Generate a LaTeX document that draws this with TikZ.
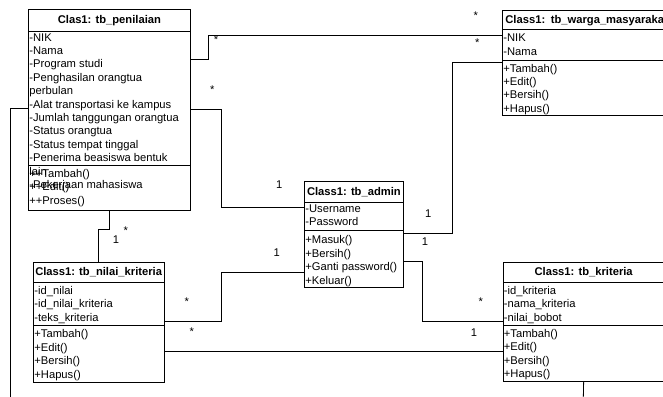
\documentclass[tikz,border=0pt]{standalone}
\usepackage{fontspec}
\setmainfont{Liberation Sans}

\begin{document}
\begin{tikzpicture}[x = 1pt, y = -1pt, line width = 0.8pt,
		font = \fontsize{11.2}{13.4}\selectfont,
		kelas/.style = {draw, rectangle, inner sep = 0pt, anchor = north west},
		judul/.style = {kelas, font = \fontsize{11.2}{13.4}\selectfont\bfseries},
		isi/.style = {anchor = north west, align = left, inner sep = 0pt},
		mult/.style = {inner sep = 0pt}]
		\useasboundingbox (0,0) rectangle (663,396);
		% tb_penilaian
		\node (penT) at (28,9) [judul, minimum width = 162, minimum height = 22] {Clas1: tb\_penilaian};
		\node (penA) at (28,31) [kelas, minimum width = 162, minimum height = 134] {};
		\node (penM) at (28,165) [kelas, minimum width = 162, minimum height = 45] {};
		\node (penAisi) at (29,33) [isi] {-NIK\\-Nama\\-Program studi\\-Penghasilan orangtua\\perbulan\\-Alat transportasi ke kampus\\-Jumlah tanggungan orangtua\\-Status orangtua\\-Status tempat tinggal\\-Penerima beasiswa bentuk\\lain\\-Pekerjaan mahasiswa};
		\node (penMisi) at (29,169) [isi] {++Tambah()\\++Edit()\\++Proses()};
		% tb_warga_masyarakat
		\node (wargaT) at (502,10) [judul, text width = 190, align = left, inner xsep = 3, minimum height = 19.5] {Class1: tb\_warga\_masyarakat};
		\node (wargaA) at (502,29.5) [kelas, minimum width = 196, minimum height = 30] {};
		\node (wargaM) at (502,59.5) [kelas, minimum width = 196, minimum height = 55.5] {};
		\node (wargaAisi) at (503,33.5) [isi] {-NIK\\-Nama};
		\node (wargaMisi) at (503,63.5) [isi] {+Tambah()\\+Edit()\\+Bersih()\\+Hapus()};
		% tb_admin
		\node (adminT) at (304,181) [judul, minimum width = 99, minimum height = 21] {Class1: tb\_admin};
		\node (adminA) at (304,202) [kelas, minimum width = 99, minimum height = 28] {};
		\node (adminM) at (304,230) [kelas, minimum width = 99, minimum height = 57] {};
		\node (adminAisi) at (305,204.3) [isi] {-Username\\-Password};
		\node (adminMisi) at (305,235.3) [isi] {+Masuk()\\+Bersih()\\+Ganti password()\\+Keluar()};
		% tb_nilai_kriteria
		\node (nilaiT) at (33,262) [judul, minimum width = 130.5, minimum height = 20] {Class1: tb\_nilai\_kriteria};
		\node (nilaiA) at (33,282) [kelas, minimum width = 130.5, minimum height = 43] {};
		\node (nilaiM) at (33,325) [kelas, minimum width = 130.5, minimum height = 57] {};
		\node (nilaiAisi) at (34,286) [isi] {-id\_nilai\\-id\_nilai\_kriteria\\-teks\_kriteria};
		\node (nilaiMisi) at (34,329.3) [isi] {+Tambah()\\+Edit()\\+Bersih()\\+Hapus()};
		% tb_kriteria
		\node (kritT) at (502.5,262) [judul, minimum width = 161.5, minimum height = 20] {Class1: tb\_kriteria};
		\node (kritA) at (502.5,282) [kelas, minimum width = 161.5, minimum height = 43] {};
		\node (kritM) at (502.5,325) [kelas, minimum width = 161.5, minimum height = 56] {};
		\node (kritAisi) at (503.5,286) [isi] {-id\_kriteria\\-nama\_kriteria\\-nilai\_bobot};
		\node (kritMisi) at (503.5,329) [isi] {+Tambah()\\+Edit()\\+Bersih()\\+Hapus()};
		% ujung bebas
		\coordinate (tepiKiri) at (10,400);
		\coordinate (tepiBawah) at (583.25,400);
		% relasi
		\draw ([yshift=-28pt]penA.north east) -- ++(18,0) |- ([yshift=-6pt]wargaA.north west);
		\draw ([yshift=-3pt]wargaM.north west) -- ++(-50,0) |- ([yshift=-3pt]adminM.north east);
		\draw ([yshift=-78pt]penA.north east) -- ++(31,0) |- ([yshift=-5pt]adminA.north west);
		\draw ([yshift=-42pt]adminM.north west) -- ++(-83,0) |- ([yshift=4pt]nilaiM.north east);
		\draw ([yshift=-31pt]adminM.north east) -- ++(19,0) |- ([yshift=4pt]kritM.north west);
		\draw ([yshift=-26pt]nilaiM.north east) -- ([yshift=-26pt]kritM.north west);
		\draw (penM.south) -- ++(0,19) -| (nilaiT.north);
		\draw ([yshift=-77pt]penA.north west) -| (tepiKiri);
		\draw (kritM.south) -- (tepiBawah);
		% multiplisitas
		\node (m1) at (475.7,15.3) [mult] {*};
		\node (m2) at (477.3,42.7) [mult] {*};
		\node (m3) at (216,39.3) [mult] {*};
		\node (m4) at (212.3,89.3) [mult] {*};
		\node (m5) at (279.3,185) [mult] {1};
		\node (m6) at (428.3,214) [mult] {1};
		\node (m7) at (425,241.7) [mult] {1};
		\node (m8) at (276.7,252.7) [mult] {1};
		\node (m9) at (186.7,302) [mult] {*};
		\node (m10) at (191.7,331.3) [mult] {*};
		\node (m11) at (480.7,302) [mult] {*};
		\node (m12) at (474,332.7) [mult] {1};
		\node (m13) at (116,240) [mult] {1};
		\node (m14) at (125.7,230.3) [mult] {*};
	\end{tikzpicture}
\end{document}
